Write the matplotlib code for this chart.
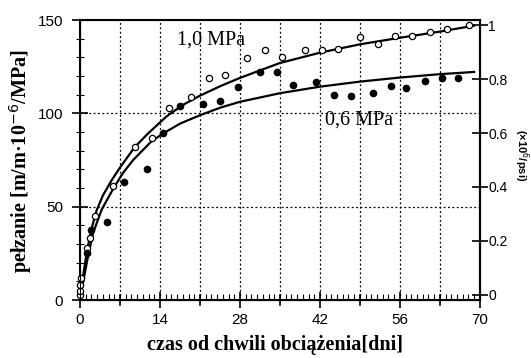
import numpy as np
import matplotlib
matplotlib.use("Agg")
import matplotlib.pyplot as plt
from matplotlib.ticker import MultipleLocator

# fitted creep curves [days, m/m*1e-6/MPa]
t_fit_10 = [0, 0.5, 1.2, 2, 2.9, 4, 5.5, 7, 9.6, 12, 15.2, 18, 21, 24.5, 28, 35, 42, 49, 56, 63, 69]
c_fit_10 = [0, 12, 26, 38, 48, 56, 64, 71, 82, 89.5, 98.5, 104.5, 109.5, 114.5, 119, 127, 132.5, 137, 140.5, 143.8, 147]
t_fit_06 = [0, 0.5, 1.5, 2.3, 3.8, 5.7, 7.5, 9.3, 12.5, 14.6, 17.5, 21, 24.5, 28, 35, 42, 49, 56, 63, 69]
c_fit_06 = [0, 9, 25, 36, 48.5, 59, 68, 75, 85, 89.3, 94.5, 99, 103, 106.2, 110.8, 114.3, 117, 119.2, 121, 122.2]

# measured points, 1.0 MPa (open circles)
t_10 = [0, 0, 0, 0.1, 1.2, 1.75, 2.7, 5.7, 9.6, 12.6, 15.6, 19.4, 22.5, 25.4, 29.3, 32.3,
        35.3, 39.3, 42.3, 45.2, 49.1, 52.2, 55.2, 58.2, 61.2, 64.2, 68.1]
c_10 = [2.7, 5, 8, 11.6, 28, 33, 45, 61, 82, 87, 103, 109, 119, 120.5, 129.8, 134,
        130, 134, 134, 134.5, 141, 137, 141.7, 141.7, 143.4, 145, 147.3]

# measured points, 0.6 MPa (filled circles)
t_06 = [1.2, 1.9, 4.8, 7.7, 11.7, 14.6, 17.5, 21.5, 24.5, 27.6, 31.5, 34.4, 37.3, 41.3,
        44.4, 47.4, 51.3, 54.4, 57, 60.4, 63.3, 66.2]
c_06 = [25, 37.5, 42, 63, 70, 89.3, 104, 105, 106.8, 114, 122, 122, 115, 116.7,
        109.8, 109.3, 110.7, 114.4, 113.4, 117.5, 119, 119]

fig = plt.figure(figsize=(5.31, 3.58), dpi=100)
ax = fig.add_axes([0.1507, 0.162, 0.753, 0.782])

ax.plot(t_fit_10, c_fit_10, color="black", lw=1.6)
ax.plot(t_fit_06, c_fit_06, color="black", lw=1.6)
ax.plot(t_10, c_10, "o", ms=4.5, mfc="white", mec="black", mew=0.9, clip_on=False, zorder=3)
ax.plot(t_06, c_06, "o", ms=4.5, mfc="black", mec="black", clip_on=False, zorder=3)

ax.set_xlim(0, 70)
ax.set_ylim(0, 150)

# dotted grid
for x in range(7, 70, 7):
    ax.axvline(x, color="black", lw=0.9, ls=(0, (1.5, 2)), zorder=1)
for y in (50, 100):
    ax.axhline(y, color="black", lw=0.9, ls=(0, (1.5, 2)), zorder=1)

tick_font = {"family": "Liberation Sans", "size": 11}
ax.xaxis.set_major_locator(MultipleLocator(14))
ax.xaxis.set_minor_locator(MultipleLocator(1))
ax.yaxis.set_major_locator(MultipleLocator(50))
ax.yaxis.set_minor_locator(MultipleLocator(10))
ax.tick_params(axis="x", which="major", direction="inout", length=12, width=1.2, pad=3)
ax.tick_params(axis="x", which="minor", direction="in", length=4, width=0.8)
ax.tick_params(axis="y", which="major", direction="inout", length=12, width=1.2, pad=6)
ax.tick_params(axis="y", which="minor", direction="inout", length=6, width=0.8)
# extra crossing ticks at half steps on x
for x in range(7, 70, 14):
    ax.plot([x, x], [-2.5, 2.5], color="black", lw=1.2, clip_on=False)
for lbl in ax.get_xticklabels() + ax.get_yticklabels():
    lbl.set_fontfamily(tick_font["family"])
    lbl.set_fontsize(tick_font["size"])

for sp in ax.spines.values():
    sp.set_linewidth(1.5)

ax2 = ax.twinx()
ax2.set_ylim(-0.019, 1.019)
ax2.set_yticks([0, 0.2, 0.4, 0.6, 0.8, 1.0])
ax2.set_yticklabels(["0", "0.2", "0.4", "0.6", "0.8", "1"])
ax2.tick_params(axis="y", direction="inout", length=12, width=1.2, pad=0)
for lbl in ax2.get_yticklabels():
    lbl.set_fontfamily(tick_font["family"])
    lbl.set_fontsize(10)
ax2.spines["right"].set_linewidth(1.5)

ax.text(23, 139.5, "1,0 MPa", family="Liberation Serif", fontsize=14.5, ha="center", va="center")
ax.text(48.8, 96.4, "0,6 MPa", family="Liberation Serif", fontsize=14.5, ha="center", va="center")

fig.text(0.038, 0.55, "pełzanie [m/m·10$^{-6}$/MPa]", rotation=90, family="Liberation Serif",
         fontweight="bold", fontsize=14.5, ha="center", va="center")
fig.text(0.518, 0.036, "czas od chwili obciążenia[dni]", family="Liberation Serif",
         fontweight="bold", fontsize=14.5, ha="center", va="center")
fig.text(0.981, 0.567, "(×10$^{6}$/psi)", rotation=-90, family="Liberation Sans",
         fontweight="bold", fontsize=8, ha="center", va="center")

fig.savefig("out.png", dpi=100)
